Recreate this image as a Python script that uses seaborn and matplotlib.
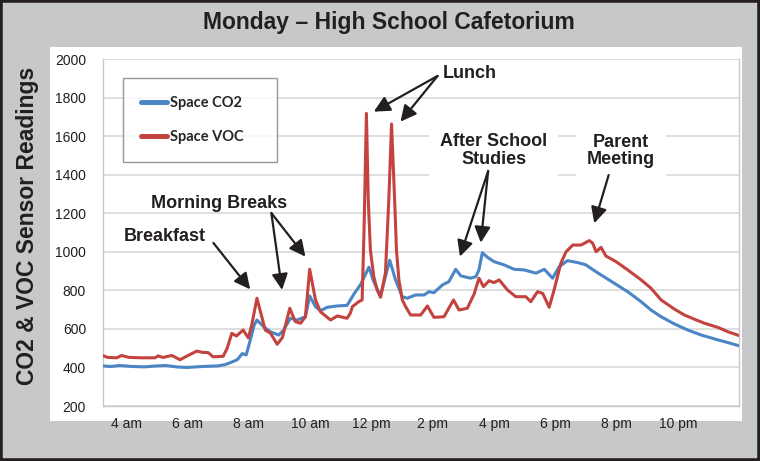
import numpy as np
import pandas as pd
import seaborn as sns
import matplotlib
matplotlib.use("Agg")
import matplotlib.pyplot as plt
from matplotlib.patches import Rectangle
from matplotlib import font_manager as fm

# ---------------- data (hour of day, reading) ----------------
co2_hours = [3.24, 3.5, 3.8, 4.2, 4.6, 5.0, 5.3, 5.7, 6.0, 6.5, 7.0, 7.24, 7.4, 7.63, 7.79, 7.92,
             8.05, 8.18, 8.27, 8.49, 8.71, 8.98, 9.14, 9.36, 9.58, 9.85, 9.99, 10.18, 10.34, 10.56,
             10.89, 11.21, 11.43, 11.65, 11.92, 12.08, 12.3, 12.46, 12.6, 12.79, 13.01, 13.17,
             13.44, 13.72, 13.88, 14.04, 14.32, 14.53, 14.75, 14.92, 15.24, 15.41, 15.51, 15.62,
             15.79, 16.0, 16.33, 16.66, 16.98, 17.37, 17.64, 17.91, 18.13, 18.4, 18.73, 19.0,
             19.16, 19.49, 19.92, 20.36, 20.8, 21.12, 21.45, 21.89, 22.32, 22.76, 23.3, 23.63, 24.0]
co2_values = [408, 405, 410, 405, 403, 408, 410, 402, 400, 405, 408, 415, 425, 440, 472, 465,
              540, 620, 646, 611, 585, 568, 594, 655, 646, 663, 771, 715, 694, 712,
              719, 722, 780, 830, 920, 845, 769, 871, 956, 854, 767, 759,
              776, 776, 793, 788, 828, 845, 909, 875, 863, 871, 906, 995,
              971, 949, 932, 909, 906, 889, 909, 863, 923, 954, 944, 932,
              914, 880, 837, 793, 741, 698, 663, 625, 594, 568, 543, 529, 512]

voc_hours = [3.24, 3.4, 3.7, 3.85, 4.1, 4.5, 4.95, 5.05, 5.2, 5.5, 5.76, 6.0, 6.31, 6.5, 6.68,
             6.84, 7.17, 7.3, 7.45, 7.6, 7.82, 7.99, 8.1, 8.27, 8.54, 8.71, 8.93, 9.1, 9.34,
             9.52, 9.69, 9.85, 9.99, 10.18, 10.34, 10.67, 10.89, 11.21, 11.32, 11.38, 11.59,
             11.70, 11.76, 11.84, 11.90, 11.97, 12.08, 12.19, 12.30, 12.46, 12.57, 12.66, 12.76,
             12.82, 12.9, 13.01, 13.12, 13.28, 13.61, 13.83, 14.04, 14.37, 14.68, 14.86, 15.13,
             15.35, 15.51, 15.66, 15.84, 16.0, 16.17, 16.44, 16.71, 17.04, 17.2, 17.42, 17.59,
             17.8, 17.96, 18.18, 18.35, 18.57, 18.84, 19.11, 19.22, 19.33, 19.49, 19.65, 19.98,
             20.36, 20.8, 21.12, 21.45, 21.89, 22.21, 22.54, 22.87, 23.3, 23.63, 24.0]
voc_values = [462, 452, 450, 462, 452, 450, 450, 460, 452, 462, 440, 460, 485, 478, 477,
              455, 458, 500, 577, 563, 594, 553, 620, 759, 594, 578, 520, 555, 707,
              638, 629, 663, 909, 750, 689, 646, 667, 655, 683, 715, 741,
              750, 1096, 1718, 1269, 1009, 871, 802, 764, 890, 1269, 1663, 1269,
              1009, 853, 750, 715, 672, 672, 719, 660, 663, 750, 698, 707,
              780, 863, 819, 850, 840, 854, 802, 767, 767, 741, 793, 784,
              712, 802, 940, 1000, 1035, 1035, 1058, 1044, 1000, 1023, 978, 949,
              906, 854, 811, 750, 702, 672, 650, 629, 608, 585, 565]

series_names = ["Space CO2", "Space VOC"]
tick_hours = [4, 6, 8, 10, 12, 14, 16, 18, 20, 22]
tick_labels = ["4 am", "6 am", "8 am", "10 am", "12 pm", "2 pm", "4 pm", "6 pm", "8 pm", "10 pm"]
y_ticks = [200, 400, 600, 800, 1000, 1200, 1400, 1600, 1800, 2000]

df = pd.concat([
    pd.DataFrame({"hour": co2_hours, "reading": co2_values, "series": series_names[0]}),
    pd.DataFrame({"hour": voc_hours, "reading": voc_values, "series": series_names[1]}),
], ignore_index=True)

# ---------------- styling ----------------
sns.set_style("white")
plt.rcParams["font.family"] = ["Liberation Sans", "DejaVu Sans"]
avail = {f.name for f in fm.fontManager.ttflist}
title_family = "Liberation Sans Narrow" if "Liberation Sans Narrow" in avail else "Liberation Sans"
legend_family = "Lato" if "Lato" in avail else "Liberation Sans"

W, H = 760, 461
fig = plt.figure(figsize=(W / 100, H / 100), dpi=100)
fig.patch.set_facecolor("#c7c8ca")

# white panel (behind axes)
fig.patches.append(Rectangle((50 / W, 1 - 421 / H), (742 - 50) / W, (421 - 47) / H,
                             transform=fig.transFigure, facecolor="white", edgecolor="none", zorder=-5))
# dark border
fig.patches.append(Rectangle((0, 0), 1, 1, transform=fig.transFigure, fill=False,
                             edgecolor="#231f20", linewidth=4, zorder=10))

ax = fig.add_axes([102.7 / W, 1 - 406 / H, (739.3 - 102.7) / W, (406 - 59) / H])
ax.set_zorder(1)
ax.set_facecolor("white")

palette = {"Space CO2": "#4a85c6", "Space VOC": "#c4433f"}
sns.lineplot(data=df, x="hour", y="reading", hue="series", hue_order=series_names,
             palette=palette, estimator=None, linewidth=2.2, legend=False, ax=ax, zorder=3)

ax.set_xlim(3.24, 24.0)
ax.set_ylim(200, 2000)
ax.set_xticks(tick_hours)
ax.set_xticklabels(tick_labels)
ax.set_yticks(y_ticks)
ax.set_xlabel("")
ax.set_ylabel("")
ax.grid(axis="y", color="#d6d6d6", linewidth=1.1)
ax.grid(axis="x", visible=False)
for s in ["left", "bottom", "right"]:
    ax.spines[s].set_visible(True)
    ax.spines[s].set_color("#c8c8c8")
    ax.spines[s].set_linewidth(1.0)
ax.spines["top"].set_visible(False)
ax.tick_params(axis="both", labelsize=10, colors="#231f20", length=4, color="#c8c8c8")
ax.tick_params(axis="y", pad=8)
ax.tick_params(axis="x", pad=4)

# legend
handles = ax.get_lines()[:2]
leg = ax.legend(handles, series_names, loc="upper left",
                bbox_to_anchor=(123 / W, 1 - 78 / H, (277 - 123) / W, 0),
                bbox_transform=fig.transFigure, mode="expand",
                frameon=True, fancybox=False, edgecolor="#7f7f7f",
                prop={"family": legend_family, "weight": "bold", "size": 10.5},
                handlelength=1.8, handletextpad=0.15, labelspacing=1.35, borderpad=1.25,
                borderaxespad=0)
leg.get_frame().set_linewidth(1.0)
for lh in leg.get_lines():
    lh.set_linewidth(3.6)

# titles
fig.text(389 / W, 1 - 22 / H, "Monday \u2013 High School Cafetorium", ha="center", va="center",
         family=title_family, weight="bold", size=16.5, color="#231f20")
fig.text(28 / W, 1 - 226 / H, "CO2 & VOC Sensor Readings", rotation=90, ha="center", va="center",
         weight="bold", size=16.5, color="#231f20")

# annotations
arrow = dict(arrowstyle="-|>,head_length=0.6,head_width=0.3", mutation_scale=16,
             color="#231f20", lw=1.6, shrinkA=0, shrinkB=0)
tfont = dict(weight="bold", size=13, color="#231f20")

def arrow_to(tail, head):
    ax.annotate("", xy=head, xytext=tail, arrowprops=arrow, zorder=6)

ax.text(15.21, 1927, "Lunch", ha="center", va="center", **tfont)
arrow_to((14.16, 1912), (12.08, 1727))
arrow_to((14.16, 1912), (12.95, 1675))

ax.text(15.99, 1525, "After School\nStudies", ha="center", va="center", linespacing=1.05,
        bbox=dict(boxstyle="square,pad=0.6", facecolor="white", edgecolor="none"), zorder=5, **tfont)
arrow_to((15.81, 1419), (14.89, 975))
arrow_to((15.81, 1419), (15.57, 1047))

ax.text(20.15, 1522, "Parent\nMeeting", ha="center", va="center", linespacing=1.05,
        bbox=dict(boxstyle="square,pad=0.6", facecolor="white", edgecolor="none"), zorder=5, **tfont)
arrow_to((19.74, 1398), (19.27, 1148))

ax.text(7.04, 1253, "Morning Breaks", ha="center", va="center", **tfont)
arrow_to((8.74, 1201), (9.09, 802))
arrow_to((8.74, 1201), (9.85, 975))

ax.text(5.27, 1077, "Breakfast", ha="center", va="center", **tfont)
arrow_to((6.85, 1046), (8.05, 805))

fig.savefig("out.png", dpi=100, facecolor=fig.get_facecolor())
